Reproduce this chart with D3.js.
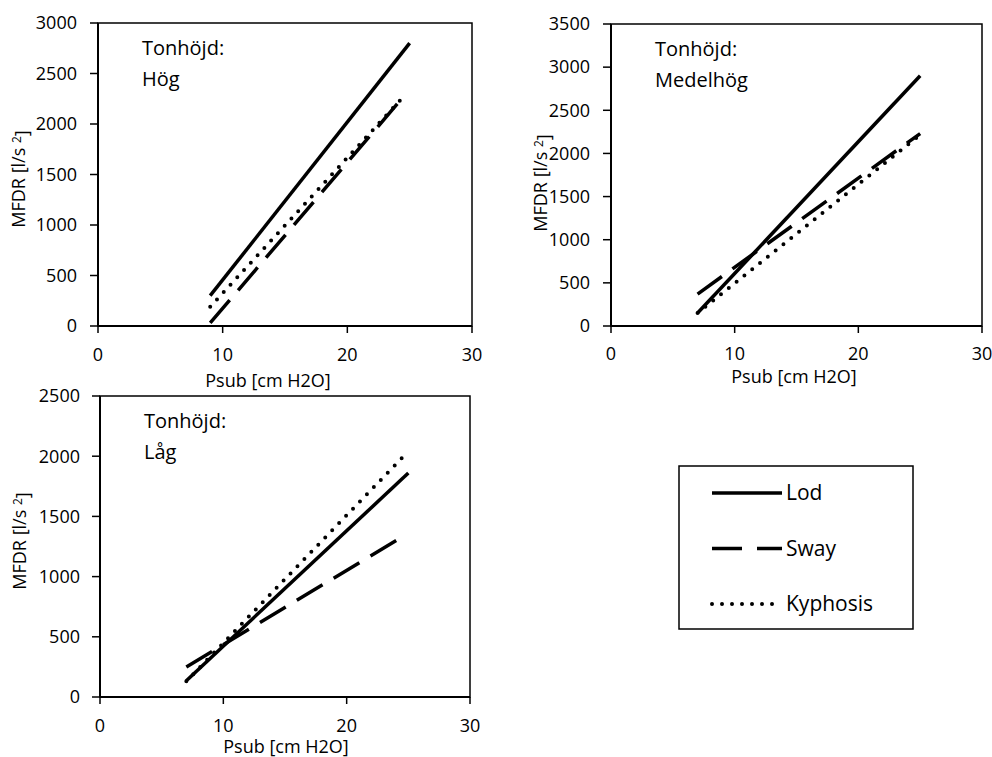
<!DOCTYPE html>
<html>
<head>
<meta charset="utf-8">
<script src="https://cdn.jsdelivr.net/npm/d3@7"></script>
<style>
  body { margin: 0; background: #fff; }
  text { font-family: "Open Sans", sans-serif; fill: #000; }
</style>
</head>
<body>
<div id="chart"></div>
<script>
// MFDR vs Psub, three pitch levels (Tonhöjd), three postures

var seriesNames = ["Lod", "Sway", "Kyphosis"];
var xTicks = [0, 10, 20, 30];

// Tonhöjd: Hög
var hogLod = [[9, 300], [25, 2800]];
var hogSway = [[9, 30], [24.5, 2270]];
var hogKyphosis = [[9, 190], [24.5, 2270]];
var hogYTicks = [0, 500, 1000, 1500, 2000, 2500, 3000];

// Tonhöjd: Medelhög
var medLod = [[7, 150], [25, 2900]];
var medSway = [[7, 370], [25, 2230]];
var medKyphosis = [[7, 150], [25, 2215]];
var medYTicks = [0, 500, 1000, 1500, 2000, 2500, 3000, 3500];

// Tonhöjd: Låg
var lagLod = [[7, 135], [25, 1860]];
var lagSway = [[7, 250], [24.5, 1330]];
var lagKyphosis = [[7, 130], [25, 2040]];
var lagYTicks = [0, 500, 1000, 1500, 2000, 2500];

var panelLabels = ["Hög", "Medelhög", "Låg"];

var width = 992, height = 757;

var svg = d3.select("#chart")
  .append("svg")
  .attr("width", width)
  .attr("height", height);

var lineStyles = {
  Lod: { dash: null, cap: "butt", w: 3.5 },
  Sway: { dash: "30,13", cap: "butt", w: 3.5 },
  Kyphosis: { dash: "0,10", cap: "round", w: 4 }
};

var panels = [
  { left: 98, top: 23, w: 374, h: 303, yTicks: hogYTicks, label: panelLabels[0],
    series: [hogLod, hogSway, hogKyphosis],
    yTitle: [19, 179], xTitle: [268, 387], tickBase: 361, tickLabelEnd: 77, yTickLen: 8 },
  { left: 611, top: 24, w: 371, h: 302, yTicks: medYTicks, label: panelLabels[1],
    series: [medLod, medSway, medKyphosis],
    yTitle: [541, 183], xTitle: [794, 383], tickBase: 360, tickLabelEnd: 590, yTickLen: 8 },
  { left: 100, top: 396, w: 370, h: 301, yTicks: lagYTicks, label: panelLabels[2],
    series: [lagLod, lagSway, lagKyphosis],
    yTitle: [20, 541], xTitle: [286, 753], tickBase: 732, tickLabelEnd: 80, yTickLen: 8 }
];

panels.forEach(function(p) {
  var x = d3.scaleLinear().domain([0, 30]).range([p.left, p.left + p.w]);
  var y = d3.scaleLinear().domain([0, d3.max(p.yTicks)]).range([p.top + p.h, p.top]);

  var g = svg.append("g");

  // plot area border
  g.append("rect")
    .attr("x", p.left).attr("y", p.top)
    .attr("width", p.w).attr("height", p.h)
    .attr("fill", "none").attr("stroke", "#000").attr("stroke-width", 1.5);

  // y axis
  g.append("line")
    .attr("x1", p.left).attr("x2", p.left)
    .attr("y1", p.top).attr("y2", p.top + p.h)
    .attr("stroke", "#000").attr("stroke-width", 2);
  g.selectAll(".ytick").data(p.yTicks).enter()
    .append("line")
    .attr("x1", p.left - p.yTickLen).attr("x2", p.left)
    .attr("y1", function(d) { return y(d); })
    .attr("y2", function(d) { return y(d); })
    .attr("stroke", "#000").attr("stroke-width", 1.5);
  g.selectAll(".ylab").data(p.yTicks).enter()
    .append("text")
    .attr("x", p.tickLabelEnd)
    .attr("y", function(d) { return y(d); })
    .attr("dy", "0.35em")
    .attr("text-anchor", "end")
    .style("font-size", "18px")
    .text(function(d) { return d; });

  // x axis
  g.append("line")
    .attr("x1", p.left).attr("x2", p.left + p.w)
    .attr("y1", p.top + p.h).attr("y2", p.top + p.h)
    .attr("stroke", "#000").attr("stroke-width", 2);
  g.selectAll(".xtick").data(xTicks).enter()
    .append("line")
    .attr("x1", function(d) { return x(d); })
    .attr("x2", function(d) { return x(d); })
    .attr("y1", p.top + p.h).attr("y2", p.top + p.h + 7)
    .attr("stroke", "#000").attr("stroke-width", 1.5);
  g.selectAll(".xlab").data(xTicks).enter()
    .append("text")
    .attr("x", function(d) { return x(d); })
    .attr("y", p.tickBase)
    .attr("text-anchor", "middle")
    .style("font-size", "18px")
    .text(function(d) { return d; });

  // axis titles
  g.append("text")
    .attr("x", p.xTitle[0]).attr("y", p.xTitle[1])
    .attr("text-anchor", "middle")
    .style("font-size", "18px")
    .text("Psub [cm H2O]");

  var yt = g.append("text")
    .attr("transform", "translate(" + p.yTitle[0] + "," + p.yTitle[1] + ") rotate(-90)")
    .attr("dy", "0.35em")
    .attr("text-anchor", "middle")
    .style("font-size", "18px");
  yt.append("tspan").text("MFDR [l/s ");
  yt.append("tspan").attr("dy", "-0.4em").style("font-size", "12px").text("2");
  yt.append("tspan").attr("dy", "0.4em").text("]");

  // series lines
  var line = d3.line()
    .x(function(d) { return x(d[0]); })
    .y(function(d) { return y(d[1]); });

  p.series.forEach(function(s, i) {
    var st = lineStyles[seriesNames[i]];
    g.append("path")
      .datum(s)
      .attr("d", line)
      .attr("fill", "none")
      .attr("stroke", "#000")
      .attr("stroke-width", st.w)
      .attr("stroke-linecap", st.cap)
      .attr("stroke-dasharray", st.dash);
  });

  // annotation
  g.append("text")
    .attr("x", p.left + 44).attr("y", p.top + 32)
    .style("font-size", "20px")
    .text("Tonhöjd:");
  g.append("text")
    .attr("x", p.left + 44).attr("y", p.top + 63)
    .style("font-size", "20px")
    .text(p.label);
});

// legend
var legend = svg.append("g");
legend.append("rect")
  .attr("x", 679).attr("y", 466)
  .attr("width", 234).attr("height", 163)
  .attr("fill", "none").attr("stroke", "#000").attr("stroke-width", 1.5);

var legendY = d3.scalePoint().domain(seriesNames).range([493, 604]);

seriesNames.forEach(function(name) {
  var st = lineStyles[name];
  legend.append("line")
    .attr("x1", 712).attr("x2", name === "Kyphosis" ? 778 : 782)
    .attr("y1", legendY(name)).attr("y2", legendY(name))
    .attr("stroke", "#000")
    .attr("stroke-width", st.w)
    .attr("stroke-linecap", st.cap)
    .attr("stroke-dasharray", name === "Sway" ? "30,15" : st.dash);
  legend.append("text")
    .attr("x", 786).attr("y", legendY(name))
    .attr("dy", "0.35em")
    .style("font-size", "21px")
    .text(name);
});
</script>
</body>
</html>
